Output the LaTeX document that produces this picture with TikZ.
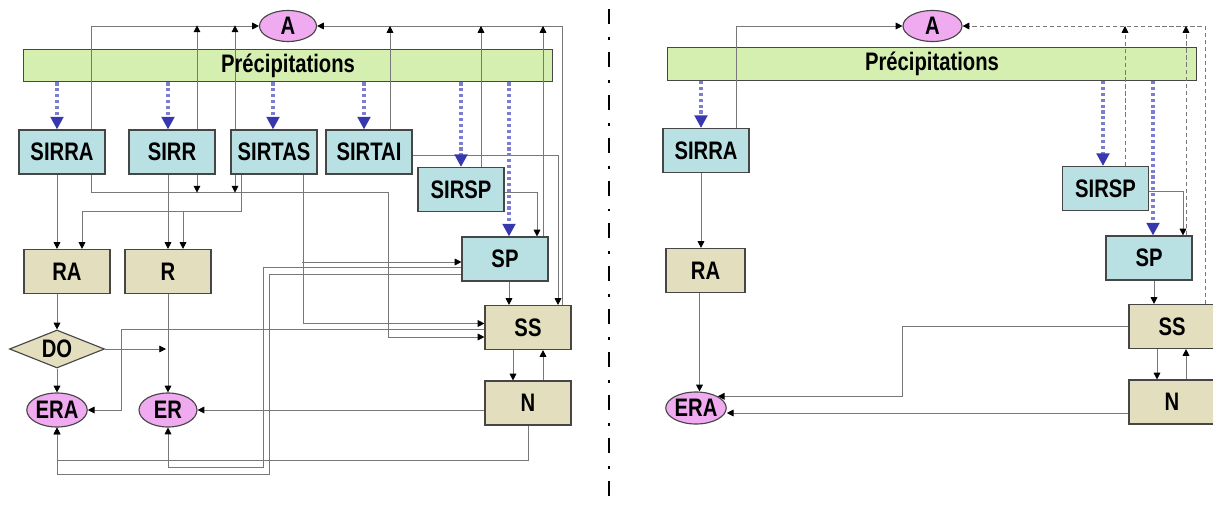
\documentclass[tikz,border=0pt]{standalone}
\usepackage{fontspec}
\setmainfont{Liberation Sans}[FakeStretch=0.8]
\usetikzlibrary{shapes.geometric, arrows.meta, positioning, calc, backgrounds}

\definecolor{boxcyan}{RGB}{185,225,228}
\definecolor{boxtan}{RGB}{226,222,190}
\definecolor{barcol}{RGB}{213,239,176}
\definecolor{pinkcol}{RGB}{240,170,240}
\definecolor{raincol}{RGB}{125,125,210}
\definecolor{rainhead}{RGB}{55,55,175}
\definecolor{edgecol}{RGB}{70,70,70}
\definecolor{linecol}{RGB}{120,120,120}

\tikzset{
  txt/.style={font=\fontsize{18}{20}\selectfont\bfseries, inner sep=0pt},
  sbox/.style={txt, rectangle, draw=edgecol, line width=0.8pt, fill=boxcyan, minimum width=2.15cm, minimum height=1.1cm},
  tbox/.style={sbox, fill=boxtan},
  dia/.style={txt, diamond, draw=edgecol, line width=0.8pt, fill=boxtan, aspect=2.5, minimum width=2.375cm, minimum height=0.95cm},
  oval/.style={txt, ellipse, draw=edgecol, line width=0.8pt, fill=pinkcol},
  bar/.style={txt, rectangle, draw=edgecol, line width=0.8pt, fill=barcol, minimum width=13.2cm, minimum height=0.82cm},
  ln/.style={draw=linecol, line width=0.55pt},
  lnd/.style={ln, densely dashed},
  rain/.style={draw=raincol, line width=2.6pt, dash pattern=on 2.2pt off 2pt, -{Triangle[length=9pt,width=9pt,color=rainhead]}},
  divider/.style={black, line width=2.1pt, dash pattern=on 10.7pt off 9.2pt on 2.1pt off 8.5pt}
}

\begin{document}
\begin{tikzpicture}[x=0.025cm, y=-0.025cm, >={Triangle[length=4.8pt,width=4.8pt,color=black]}]
\useasboundingbox (0,0) rectangle (1213,506);

% left diagram
\node[oval, minimum width=1.425cm, minimum height=0.775cm] (A) at (288,26) {A};
\node[sbox] (SIRRA) at (62,152) {SIRRA};
\node[sbox] (SIRR) at (172,152) {SIRR};
\node[sbox] (SIRTAS) at (274,152) {SIRTAS};
\node[sbox] (SIRTAI) at (369,152) {SIRTAI};
\node[sbox] (SIRSP) at (461,189.5) {SIRSP};
\node[sbox] (SP) at (505,259) {SP};
\node[tbox] (SS) at (528,327.5) {SS};
\node[tbox] (N) at (528,403) {N};
\node[tbox] (RA) at (67,271.5) {RA};
\node[tbox] (R) at (168,271.5) {R};
\node[dia] (DO) at (57,349) {DO};
\node[oval, minimum width=1.45cm, minimum height=0.85cm] (ERA) at (57,410) {ERA};
\node[oval, minimum width=1.45cm, minimum height=0.85cm] (ER) at (168,410) {ER};

% right diagram
\node[oval, minimum width=1.475cm, minimum height=0.775cm] (A2) at (932.5,26) {A};
\node[sbox] (SIRRA2) at (706,150.5) {SIRRA};
\node[sbox] (SIRSP2) at (1105.5,188.5) {SIRSP};
\node[sbox] (SP2) at (1149,258) {SP};
\node[tbox] (SS2) at (1172,326.5) {SS};
\node[tbox] (N2) at (1172,402) {N};
\node[tbox, minimum width=1.975cm] (RA2) at (705.5,270.5) {RA};
\node[oval, minimum width=1.35cm, minimum height=0.8cm] (ERA2) at (696,408) {ERA};

\begin{pgfonlayer}{background}
\node[bar] (prec) at (288,65.5) {Précipitations};
\node[bar] (prec2) at (932,64) {Précipitations};

% left connectors
\draw[ln,->] ($(SIRRA.north)+(29,0)$) |- (A.west);
\draw[ln,->] ($(SIRRA.south)+(29,0)$) -- ++(0,18) -| ($(SS.west)+(-96,9.5)$) -- ($(SS.west)+(0,9.5)$);
\draw[ln,<->] ($(SIRR.north)+(25,-104)$) -- ($(SIRR.south)+(25,18)$);
\draw[ln,<->] ($(SIRTAS.north)+(-39,-104)$) -- ($(SIRTAS.south)+(-39,18)$);
\draw[ln,->] ($(SIRTAS.south)+(-33,0)$) -- ++(0,37) -| ($(RA.north)+(15,0)$);
\draw[ln,->] ($(R.north)+(15,-37)$) -- ($(R.north)+(15,0)$);
\draw[ln,->] (SIRR.south -| R) -- (R.north);
\draw[ln,->] (SIRRA.south -| DO) -- (RA.north -| DO);
\draw[ln,->] (RA.south -| DO) -- (DO.north);
\draw[ln,->] (DO.south) -- (ERA.north);
\draw[ln,->] (DO.east) -- ($(DO.east -| R)+(-2,0)$);
\draw[ln,->] (R.south) -- (ER.north);
\draw[ln,->] ($(SS.west)+(0,1.5)$) -| ($(ERA.east)+(34,0)$) -- (ERA.east);
\draw[ln,->] (N.west |- ER.east) -- (ER.east);
\draw[ln,->] (N.south) -- ++(0,35) -| (ERA.south);
\draw[ln,->] ($(SP.west)+(0,8)$) -| ($(ER.south)+(95,40)$) -| (ER.south);
\draw[ln,->] ($(SP.west)+(0,15)$) -| ($(ERA.south)+(212,47)$) -| (ERA.south);
\draw[ln,->] ($(SIRTAS.south)+(29,0)$) |- ($(SS.west)+(0,-4)$);
\draw[ln,->] ($(SP.west)+(-159,3)$) -- ($(SP.west)+(0,3)$);
\draw[ln,->] ($(SP.south)+(4,0)$) -- ($(SP.south |- SS.north)+(4,0)$);
\draw[ln,->] ($(SS.south)+(-15,0)$) -- ($(N.north)+(-15,0)$);
\draw[ln,->] ($(N.north)+(15,0)$) -- ($(SS.south)+(15,0)$);
\draw[ln,->] ($(SIRTAI.east)+(0,3)$) -| ($(SS.north)+(30,0)$);
\draw[ln,->] ($(SS.north)+(34,0)$) |- (A.east);
\draw[ln,->] ($(SIRSP.east)+(0,2.5)$) -| ($(SP.north)+(32,0)$);
\foreach \n/\dx in {SIRTAI/21, SIRSP/20, SP/38} {
  \path ($(\n.north)+(\dx,0)$) coordinate (t);
  \draw[ln,->] (t) -- (t |- A.west);
}

% right connectors
\draw[ln,->] ($(SIRRA2.north)+(30,0)$) |- (A2.west);
\draw[ln,->] ($(SIRRA2.south)+(-5,0)$) -- ($(SIRRA2.south |- RA2.north)+(-5,0)$);
\draw[ln,->] ($(RA2.south)+(-6,0)$) -- ($(RA2.south |- ERA2.north)+(-6,0)$);
\draw[ln,->] (SS2.west) -| ($(ERA2.north east)+(185,0)$) -- (ERA2.north east);
\draw[ln,->] ($(N2.west)+(0,11)$) -- ($(ERA2.east)+(0,5)$);
\draw[ln,->] ($(SIRSP2.east)+(0,2.5)$) -| ($(SP2.north)+(34,0)$);
\draw[ln,->] ($(SP2.south)+(5,0)$) -- ($(SP2.south |- SS2.north)+(5,0)$);
\draw[ln,->] ($(SS2.south)+(-15,0)$) -- ($(N2.north)+(-15,0)$);
\draw[ln,->] ($(N2.north)+(14,0)$) -- ($(SS2.south)+(14,0)$);
\draw[lnd,->] ($(SS2.north)+(33,0)$) |- (A2.east);
\foreach \n/\dx in {SIRSP2/19.5, SP2/37} {
  \path ($(\n.north)+(\dx,0)$) coordinate (t);
  \draw[lnd,->] (t) -- (t |- A2.west);
}
\end{pgfonlayer}

% rain inputs
\foreach \n/\dx in {SIRRA/-5, SIRR/-4, SIRTAS/-1, SIRTAI/-5, SIRSP/0, SP/4} {
  \path ($(\n.north)+(\dx,0)$) coordinate (t);
  \draw[rain] (t |- prec.south) -- (t);
}
\foreach \n/\dx in {SIRRA2/-5, SIRSP2/-2.5, SP2/4} {
  \path ($(\n.north)+(\dx,0)$) coordinate (t);
  \draw[rain] (t |- prec2.south) -- (t);
}

% separator
\draw[divider] (609,9) -- (609,506);
\end{tikzpicture}
\end{document}
